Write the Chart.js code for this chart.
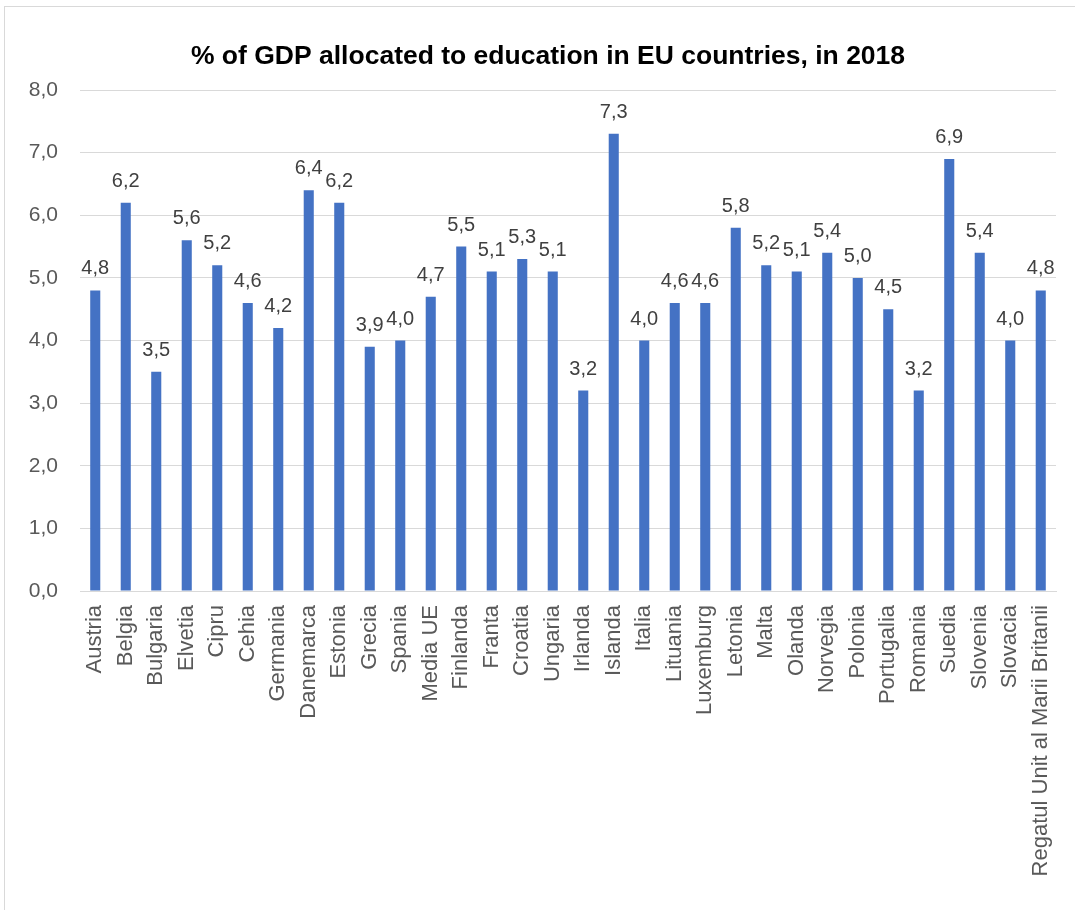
<!DOCTYPE html>
<html>
<head>
<meta charset="utf-8">
<script src="https://cdn.jsdelivr.net/npm/chart.js@4.4.1/dist/chart.umd.min.js"></script>
<style>
    body { margin: 0; background: #fff; }
    #frame {
        position: absolute; left: 4px; top: 6px; width: 1090px; height: 920px;
        border: 1px solid #d9d9d9; box-sizing: border-box;
    }
    #wrap { position: absolute; left: 0; top: 0; width: 1075px; height: 910px; }
</style>
</head>
<body>
<div id="frame"></div>
<div id="wrap"><canvas id="gdpChart" width="1075" height="910"></canvas></div>
<script>
const countries = [
    'Austria', 'Belgia', 'Bulgaria', 'Elvetia', 'Cipru', 'Cehia', 'Germania', 'Danemarca',
    'Estonia', 'Grecia', 'Spania', 'Media UE', 'Finlanda', 'Franta', 'Croatia', 'Ungaria',
    'Irlanda', 'Islanda', 'Italia', 'Lituania', 'Luxemburg', 'Letonia', 'Malta', 'Olanda',
    'Norvegia', 'Polonia', 'Portugalia', 'Romania', 'Suedia', 'Slovenia', 'Slovacia',
    'Regatul Unit al Marii Britanii'
];
const gdpShare = [
    4.8, 6.2, 3.5, 5.6, 5.2, 4.6, 4.2, 6.4,
    6.2, 3.9, 4.0, 4.7, 5.5, 5.1, 5.3, 5.1,
    3.2, 7.3, 4.0, 4.6, 4.6, 5.8, 5.2, 5.1,
    5.4, 5.0, 4.5, 3.2, 6.9, 5.4, 4.0, 4.8
];
const chartTitle = '% of GDP allocated to education in EU countries, in 2018';

const fmt = v => v.toFixed(1).replace('.', ',');

// etichete deasupra barelor + titlul (centrat pe cadru, nu pe canvas)
const barLabels = {
    id: 'barLabels',
    afterDatasetsDraw(chart) {
        const ctx = chart.ctx;
        const meta = chart.getDatasetMeta(0);
        ctx.save();
        ctx.font = '20px "Liberation Sans", Arial, sans-serif';
        ctx.fillStyle = '#404040';
        ctx.textAlign = 'center';
        ctx.textBaseline = 'alphabetic';
        meta.data.forEach((bar, i) => {
            ctx.fillText(fmt(gdpShare[i]), bar.x, bar.y - 16);
        });

        ctx.font = 'bold 26.5px "Liberation Sans", Arial, sans-serif';
        ctx.fillStyle = '#000';
        ctx.textBaseline = 'middle';
        ctx.fillText(chartTitle, 548, 57);
        ctx.restore();
    }
};

const ctx = document.getElementById('gdpChart').getContext('2d');
new Chart(ctx, {
    type: 'bar',
    data: {
        labels: countries,
        datasets: [{
            label: 'GDP',
            data: gdpShare,
            backgroundColor: '#4472C4',
            barPercentage: 0.66,
            categoryPercentage: 0.5
        }]
    },
    options: {
        responsive: false,
        animation: false,
        layout: { padding: { left: 0, right: 19, top: 90, bottom: 0 } },
        plugins: {
            legend: { display: false },
            tooltip: { enabled: false },
            title: { display: false }
        },
        scales: {
            x: {
                grid: { display: false },
                border: { color: '#d9d9d9', width: 1 },
                afterFit(scale) { scale.height = 319; },
                ticks: {
                    autoSkip: false,
                    minRotation: 90,
                    maxRotation: 90,
                    padding: 6,
                    color: '#595959',
                    font: { family: '"Liberation Sans", Arial, sans-serif', size: 22 }
                }
            },
            y: {
                min: 0,
                max: 8,
                grid: { color: '#d9d9d9', drawTicks: false },
                border: { display: false },
                afterFit(scale) { scale.width = 80; },
                ticks: {
                    stepSize: 1,
                    padding: 22,
                    color: '#595959',
                    font: { family: '"Liberation Sans", Arial, sans-serif', size: 21 },
                    callback: v => fmt(v)
                }
            }
        }
    },
    plugins: [barLabels]
});
</script>
</body>
</html>
